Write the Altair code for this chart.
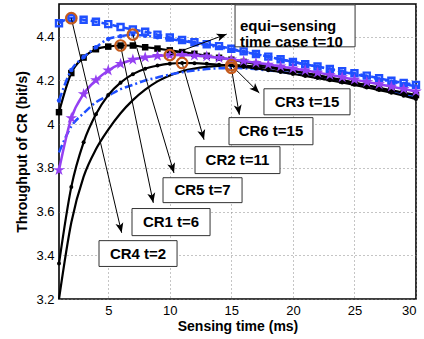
import math
import altair as alt
import pandas as pd

# ---------------- data ----------------
x_ms = list(range(1, 31))

cr4 = [4.462, 4.485, 4.478, 4.469, 4.458, 4.445, 4.433, 4.423, 4.410, 4.397,
       4.385, 4.375, 4.366, 4.357, 4.345, 4.333, 4.321, 4.309, 4.297, 4.285,
       4.274, 4.264, 4.253, 4.243, 4.233, 4.222, 4.210, 4.199, 4.189, 4.180]
cr5 = [4.108, 4.248, 4.307, 4.352, 4.390, 4.402, 4.410, 4.405, 4.398, 4.390,
       4.381, 4.372, 4.362, 4.352, 4.342, 4.331, 4.320, 4.309, 4.297, 4.286,
       4.274, 4.263, 4.252, 4.240, 4.229, 4.217, 4.206, 4.195, 4.184, 4.173]
cr1 = [4.055, 4.234, 4.305, 4.343, 4.355, 4.360, 4.360, 4.352, 4.346, 4.338,
       4.330, 4.322, 4.313, 4.304, 4.295, 4.285, 4.275, 4.265, 4.255, 4.244,
       4.233, 4.222, 4.211, 4.200, 4.189, 4.178, 4.166, 4.155, 4.144, 4.133]
equi = [3.790, 4.028, 4.138, 4.201, 4.246, 4.276, 4.295, 4.306, 4.313, 4.316,
        4.317, 4.314, 4.310, 4.303, 4.296, 4.289, 4.281, 4.273, 4.264, 4.255,
        4.246, 4.236, 4.226, 4.215, 4.204, 4.193, 4.183, 4.172, 4.161, 4.150]
cr2 = [3.362, 3.713, 3.917, 4.045, 4.133, 4.190, 4.229, 4.254, 4.268, 4.277,
       4.280, 4.279, 4.276, 4.272, 4.268, 4.262, 4.255, 4.247, 4.239, 4.230,
       4.221, 4.211, 4.201, 4.191, 4.180, 4.168, 4.156, 4.144, 4.130, 4.115]
cr3 = [3.200, 3.550, 3.760, 3.885, 3.975, 4.050, 4.110, 4.158, 4.196, 4.223,
       4.242, 4.254, 4.262, 4.267, 4.270, 4.268, 4.264, 4.258, 4.251, 4.243,
       4.234, 4.224, 4.213, 4.202, 4.190, 4.178, 4.165, 4.152, 4.138, 4.122]
cr6 = [3.870, 3.990, 4.050, 4.100, 4.130, 4.160, 4.180, 4.200, 4.214, 4.227,
       4.238, 4.246, 4.252, 4.256, 4.258, 4.256, 4.252, 4.246, 4.240, 4.232,
       4.224, 4.215, 4.205, 4.195, 4.185, 4.174, 4.163, 4.151, 4.140, 4.128]

x_ticks = [5, 10, 15, 20, 25, 30]
y_ticks = [3.2, 3.4, 3.6, 3.8, 4.0, 4.2, 4.4]

# annotations: label, curve, optimal t, arrow end, box corners (data units)
ann_labels = ["CR4 t=2", "CR1 t=6", "CR5 t=7", "CR2 t=11", "CR6 t=15", "CR3 t=15"]
ann_curves = [cr4, cr1, cr5, cr2, cr6, cr3]
ann_t = [2, 6, 7, 11, 15, 15]
ann_end_x = [6.09, 8.66, 10.34, 12.78, 15.65, 17.27]
ann_end_y = [3.503, 3.640, 3.777, 3.929, 4.043, 4.143]
box_x1 = [4.25, 6.93, 9.45, 12.05, 14.81, 17.65]
box_x2 = [10.59, 13.27, 15.87, 18.95, 21.63, 24.64]
box_y1 = [3.349, 3.490, 3.641, 3.774, 3.906, 4.043]
box_y2 = [3.467, 3.614, 3.755, 3.897, 4.030, 4.162]

equi_label = "equi\u2212sensing\ntime case t=10"
equi_t = 10
equi_end = (14.62, 4.412)
equi_box = (15.30, 25.05, 4.354, 4.546)

# ---------------- layout ----------------
W, H = 357, 295
XD = [1, 30]
YD = [3.2, 4.55]
sx = W / (XD[1] - XD[0])
sy = H / (YD[1] - YD[0])

BLUE = "#1f4fff"
PURPLE = "#9440f2"
ORANGE = "#c45a1c"
FONT = "Liberation Sans"

X = alt.X("x:Q", scale=alt.Scale(domain=XD, nice=False, zero=False),
          axis=alt.Axis(values=x_ticks, title="Sensing time (ms)"))
Y = alt.Y("y:Q", scale=alt.Scale(domain=YD, nice=False, zero=False),
          axis=alt.Axis(values=y_ticks, format="~g", title="Throughput of CR (bit/s)"))


def series(vals, color, width, dash=None, shape=None, msize=None,
           filled=True, mstroke=1):
    df = pd.DataFrame({"x": x_ms, "y": vals})
    base = alt.Chart(df)
    lk = dict(color=color, strokeWidth=width, interpolate="monotone")
    if dash:
        lk["strokeDash"] = dash
    out = [base.mark_line(**lk).encode(x=X, y=Y)]
    if shape:
        pk = dict(shape=shape, size=msize, filled=filled, color=color,
                  opacity=1, strokeWidth=mstroke)
        out.append(base.mark_point(**pk).encode(x=X, y=Y))
    return out


STAR = ("M0,-1L0.2245,-0.309L0.951,-0.309L0.363,0.118L0.588,0.809L0,0.382"
        "L-0.588,0.809L-0.363,0.118L-0.951,-0.309L-0.2245,-0.309Z")
ARROW = "M0,0L-0.8,2L0,1.5L0.8,2Z"

layers = []
layers += series(cr3, "black", 2.2)
layers += series(cr6, BLUE, 2.5, dash=[8, 3, 2, 3])
layers += series(cr2, "black", 2.2, shape="circle", msize=16)
layers += series(cr1, "black", 2.2, shape="square", msize=42)
layers += series(cr5, BLUE, 2.5, dash=[8, 3, 2, 3], shape="circle", msize=20)
layers += series(cr4, BLUE, 2.5, dash=[7, 4], shape="square", msize=36,
                 filled=False, mstroke=2.4)
layers += series(equi, PURPLE, 2.5, shape=STAR, msize=150)

# circles at optimal points + arrows
cx, cy, ex, ey, ang = [], [], [], [], []
for curve, t, x2, y2 in zip(ann_curves + [equi], ann_t + [equi_t],
                            ann_end_x + [equi_end[0]], ann_end_y + [equi_end[1]]):
    x1 = t
    y1 = curve[x_ms.index(t)]
    cx.append(x1); cy.append(y1); ex.append(x2); ey.append(y2)
    dx = (x2 - x1) * sx
    dy = -(y2 - y1) * sy
    ang.append(math.degrees(math.atan2(dx, -dy)) % 360)

adf = pd.DataFrame({"x": cx, "y": cy, "x2": ex, "y2": ey, "ang": ang})
layers.append(alt.Chart(adf).mark_rule(color="black", strokeWidth=1).encode(
    x=X, y=Y, x2="x2:Q", y2="y2:Q"))
layers.append(alt.Chart(adf).mark_point(shape=ARROW, size=100, filled=True,
                                        color="black", opacity=1).encode(
    x=alt.X("x2:Q", scale=alt.Scale(domain=XD, nice=False, zero=False)),
    y=alt.Y("y2:Q", scale=alt.Scale(domain=YD, nice=False, zero=False)),
    angle=alt.Angle("ang:Q", scale=None)))
layers.append(alt.Chart(adf).mark_point(shape="circle", size=110, filled=False,
                                        color=ORANGE, strokeWidth=2.2,
                                        opacity=1).encode(x=X, y=Y))

# boxes
bdf = pd.DataFrame({"x": box_x1 + [equi_box[0]], "x2": box_x2 + [equi_box[1]],
                    "y": box_y1 + [equi_box[2]], "y2": box_y2 + [equi_box[3]]})
layers.append(alt.Chart(bdf).mark_rect(fill="white", stroke="#333",
                                       strokeWidth=1).encode(
    x=X, x2="x2:Q", y=Y, y2="y2:Q"))

tdf = pd.DataFrame({"x": [(a + b) / 2 for a, b in zip(box_x1, box_x2)],
                    "y": [(a + b) / 2 for a, b in zip(box_y1, box_y2)],
                    "label": ann_labels})
layers.append(alt.Chart(tdf).mark_text(font=FONT, fontSize=15, fontWeight="bold",
                                       color="black", align="center",
                                       baseline="middle").encode(
    x=X, y=Y, text="label:N"))

edf = pd.DataFrame({"x": [equi_box[0] + 0.4],
                    "y": [(equi_box[2] + equi_box[3]) / 2],
                    "label": [equi_label]})
layers.append(alt.Chart(edf).mark_text(font=FONT, fontSize=15, fontWeight="bold",
                                       color="black", align="left",
                                       baseline="middle", lineBreak="\n",
                                       lineHeight=16).encode(
    x=X, y=Y, text="label:N"))

chart = alt.layer(*layers).properties(
    width=W, height=H,
    autosize=alt.AutoSizeParams(type="none"),
    padding={"left": 59, "top": 4, "right": 8, "bottom": 40},
).configure_view(stroke="black", strokeWidth=1.6).configure_axis(
    labelFont=FONT, labelFontSize=13, labelColor="black",
    titleFont=FONT, titleFontSize=14, titleFontWeight="bold", titleColor="black",
    grid=True, gridColor="#8a8a8a", gridDash=[1, 3], gridWidth=1, gridOpacity=1,
    ticks=False, domain=False, labelPadding=5,
).configure_axisY(titlePadding=6).configure_axisX(titlePadding=2)

chart.save("out.html", embed_options={"renderer": "svg", "actions": False})
